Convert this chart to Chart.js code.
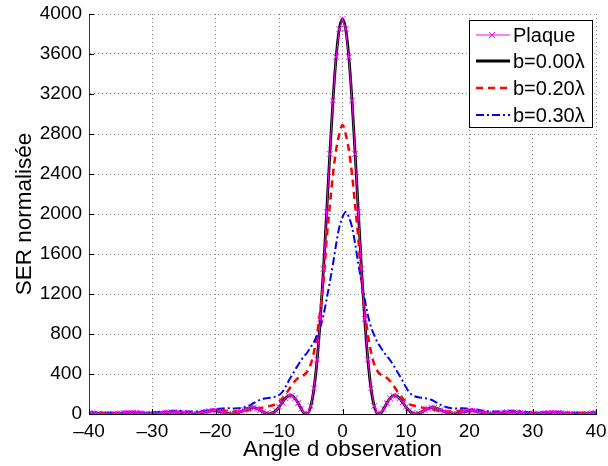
<!DOCTYPE html>
<html>
<head>
<meta charset="utf-8">
<script src="https://cdn.jsdelivr.net/npm/chart.js@4.4.1/dist/chart.umd.min.js"></script>
<style>
html, body { margin: 0; padding: 0; background: #fff; }
canvas { display: block; }
</style>
</head>
<body>
<canvas id="chart" width="608" height="466"></canvas>
<script>
// observation angle, degrees (-40 .. 40, step 0.5)
const angles = Array.from({length: 161}, (_, i) => -40 + i * 0.5);

// normalised RCS
const serPlaque = [
  9,8,6,4,2,1,0,0,2,4,7, 9,12,13,13,12,9,6,3,1,0, 1,4,8,12,16,19,20,18,14,10,
  5,1,0,2,7,15,22,29,33,32, 27,20,11,3,0,3,12,25,41,55, 64,64,55,39,20,6,0,9,34,72,
  117,157,182,183,157,110,50,7,7,80, 255,545,950,1450,2020,2600,3135,3570,3850,
  3950,
  3850,3570,3135,2600,2020,1450,950,545,255, 80,7,7,50,110,157,183,182,157,117,
  72,34,9,0,6,20,39,55,64,64, 55,41,25,12,3,0,3,11,20,27, 32,33,29,22,15,7,2,0,1,5,
  10,14,18,20,19,16,12,8,4,1, 0,1,3,6,9,12,13,13,12,9, 7,4,2,0,0,1,2,4,6,8, 9
];
const serB000 = [
  9,8,6,4,2,1,0,0,2,4,7, 9,12,13,13,12,9,6,3,1,0, 1,4,8,12,16,19,20,18,14,10,
  5,1,0,2,7,15,22,29,33,32, 27,20,11,3,0,3,12,25,41,55, 64,64,55,39,20,6,0,9,34,72,
  117,157,182,183,157,110,50,7,7,80, 255,545,950,1450,2020,2600,3135,3570,3850,
  3950,
  3850,3570,3135,2600,2020,1450,950,545,255, 80,7,7,50,110,157,183,182,157,117,
  72,34,9,0,6,20,39,55,64,64, 55,41,25,12,3,0,3,11,20,27, 32,33,29,22,15,7,2,0,1,5,
  10,14,18,20,19,16,12,8,4,1, 0,1,3,6,9,12,13,13,12,9, 7,4,2,0,0,1,2,4,6,8, 9
];
const serB020 = [
  10, 10,10,9,9,8,8,8,8,9,10, 11,12,13,13,12,12,11,10,10,10, 11,12,14,16,18,19,19,18,17,15,
  14,14,15,17,20,25,30,35,39,41, 40,37,33,28,25,24,25,28,32,36, 40,44,50,58,65,72,80,88,100,122,
  155,195,240,290,330,360,375,395,430,500, 620,800,1040,1320,1750,2080,2400,2640,2800,
  2890,
  2800,2640,2400,2080,1750,1320,1040,800,620, 500,430,395,375,360,330,290,240,195,155,
  122,100,88,80,72,65,58,50,44,40, 36,32,28,25,24,25,28,33,37,40, 41,39,35,30,25,20,17,15,14,14,
  15,17,18,19,19,18,16,14,12,11, 10,10,10,11,12,12,13,13,12,11, 10,9,8,8,8,8,9,9,10,10, 10
];
const serB030 = [
  14, 14,14,13,13,12,12,12,12,13,14, 15,16,17,17,17,16,15,15,15,16, 17,19,21,24,27,29,30,30,29,27,
  25,24,24,26,28,32,36,40,45,48, 52,55,57,57,56,56,57,61,68,78, 92,110,127,142,152,158,162,167,175,190,
  220,270,330,385,440,490,540,580,620,670, 720,790,870,990,1150,1320,1500,1700,1870,1970,
  2020,
  1970,1870,1700,1500,1320,1150,990,870,790, 720,670,620,580,540,490,440,385,330,270,
  220,190,175,167,162,158,152,142,127,110, 92,78,68,61,57,56,57,57,56,52, 48,45,40,36,32,28,26,24,24,25,
  27,29,30,30,29,28,24,21,19,17, 16,15,15,15,16,17,17,17,16,15, 14,13,12,12,12,12,13,13,14,14, 14
];

const xTicks = [-40, -30, -20, -10, 0, 10, 20, 30, 40];
const yTicks = [0, 400, 800, 1200, 1600, 2000, 2400, 2800, 3200, 3600, 4000];
const seriesNames = ['Plaque', 'b=0.00\u03bb', 'b=0.20\u03bb', 'b=0.30\u03bb'];

const FONT = "'Liberation Sans', Arial, sans-serif";
const pts = arr => arr.map((v, i) => ({x: angles[i], y: v}));

// inward tick marks (matlab style)
const innerTicks = {
  id: 'innerTicks',
  afterDatasetsDraw(chart) {
    const {ctx, chartArea: a, scales: {x, y}} = chart;
    ctx.save();
    ctx.strokeStyle = '#000';
    ctx.lineWidth = 1;
    ctx.beginPath();
    xTicks.forEach(t => {
      const px = Math.round(x.getPixelForValue(t)) + 0.5;
      ctx.moveTo(px, a.bottom); ctx.lineTo(px, a.bottom - 5);
    });
    yTicks.forEach(t => {
      const py = Math.round(y.getPixelForValue(t)) + 0.5;
      ctx.moveTo(a.left, py); ctx.lineTo(a.left + 5, py);
    });
    ctx.stroke();
    ctx.restore();
  }
};

// legend box drawn like the matlab one
const boxLegend = {
  id: 'boxLegend',
  afterDraw(chart) {
    const ctx = chart.ctx;
    const bx = 469.5, by = 20.5, bw = 123, bh = 107;
    ctx.save();
    ctx.fillStyle = '#fff';
    ctx.fillRect(bx, by, bw, bh);
    ctx.strokeStyle = '#000';
    ctx.lineWidth = 1;
    ctx.strokeRect(bx, by, bw, bh);
    const rows = [35, 61, 88, 115];
    ctx.font = '20px ' + FONT;
    ctx.textBaseline = 'middle';
    ctx.textAlign = 'left';
    chart.data.datasets.forEach((ds, i) => {
      const yy = rows[i];
      ctx.save();
      ctx.strokeStyle = ds.borderColor;
      ctx.lineWidth = ds.borderWidth;
      ctx.setLineDash(ds.borderDash || []);
      ctx.beginPath();
      ctx.moveTo(476, yy); ctx.lineTo(510, yy);
      ctx.stroke();
      ctx.restore();
      if (ds.pointRadius > 0) {
        ctx.save();
        ctx.strokeStyle = ds.borderColor;
        ctx.lineWidth = 1;
        ctx.beginPath();
        ctx.moveTo(489, yy - 3); ctx.lineTo(495, yy + 3);
        ctx.moveTo(489, yy + 3); ctx.lineTo(495, yy - 3);
        ctx.stroke();
        ctx.restore();
      }
      ctx.fillStyle = '#000';
      ctx.fillText(seriesNames[i], 513, yy + 1);
    });
    ctx.restore();
  }
};

const ctx = document.getElementById('chart').getContext('2d');
const chart = new Chart(ctx, {
  type: 'line',
  data: {
    datasets: [{
      label: seriesNames[0],
      data: pts(serPlaque),
      borderColor: '#ff00ff',
      borderWidth: 1,
      pointStyle: 'crossRot',
      pointRadius: 4,
      pointBorderWidth: 1,
      pointBorderColor: '#ff00ff',
      order: 0
    }, {
      label: seriesNames[1],
      data: pts(serB000),
      borderColor: '#000000',
      borderWidth: 2.8,
      pointRadius: 0,
      cubicInterpolationMode: 'monotone',
      order: 3
    }, {
      label: seriesNames[2],
      data: pts(serB020),
      borderColor: '#ff0000',
      borderWidth: 2.5,
      borderDash: [7, 5],
      pointRadius: 0,
      cubicInterpolationMode: 'monotone',
      order: 2
    }, {
      label: seriesNames[3],
      data: pts(serB030),
      borderColor: '#0000ff',
      borderWidth: 2,
      borderDash: [8, 3, 2, 3],
      pointRadius: 0,
      cubicInterpolationMode: 'monotone',
      order: 1
    }]
  },
  options: {
    responsive: false,
    animation: false,
    devicePixelRatio: 1,
    layout: { padding: { left: 0, right: 12, top: 14, bottom: 0 } },
    plugins: { legend: { display: false }, tooltip: { enabled: false } },
    scales: {
      x: {
        type: 'linear',
        min: -40, max: 40,
        afterFit: s => {
          s.height = 52;
          s.paddingLeft = 0; s.paddingRight = 0; s.paddingTop = 0; s.paddingBottom = 0;
        },
        afterBuildTicks: s => { s.ticks = xTicks.map(v => ({value: v})); },
        ticks: {
          padding: 6,
          color: '#000',
          font: { family: FONT, size: 19 },
          maxRotation: 0,
          callback: v => v < 0 ? '\u2013' + (-v) : String(v)
        },
        grid: { color: '#8a8a8a', drawTicks: false, lineWidth: 1 },
        border: { display: true, color: '#000', width: 1, dash: [1, 3] },
        title: {
          display: true, text: 'Angle d observation', color: '#000',
          font: { family: FONT, size: 22.5 }, padding: { top: 0, bottom: 3 }
        }
      },
      y: {
        min: 0, max: 4000,
        afterFit: s => {
          s.width = 89;
          s.paddingLeft = 0; s.paddingRight = 0; s.paddingTop = 0; s.paddingBottom = 0;
        },
        afterBuildTicks: s => { s.ticks = yTicks.map(v => ({value: v})); },
        ticks: {
          padding: 7,
          color: '#000',
          font: { family: FONT, size: 19 },
          callback: v => String(v)
        },
        grid: { color: '#8a8a8a', drawTicks: false, lineWidth: 1 },
        border: { display: true, color: '#333', width: 1, dash: [1, 3] },
        title: {
          display: true, text: 'SER normalis\u00e9e', color: '#000',
          font: { family: FONT, size: 22.5 }, padding: { top: 11, bottom: 0 }
        }
      }
    }
  },
  plugins: [innerTicks, boxLegend]
});
</script>
</body>
</html>
